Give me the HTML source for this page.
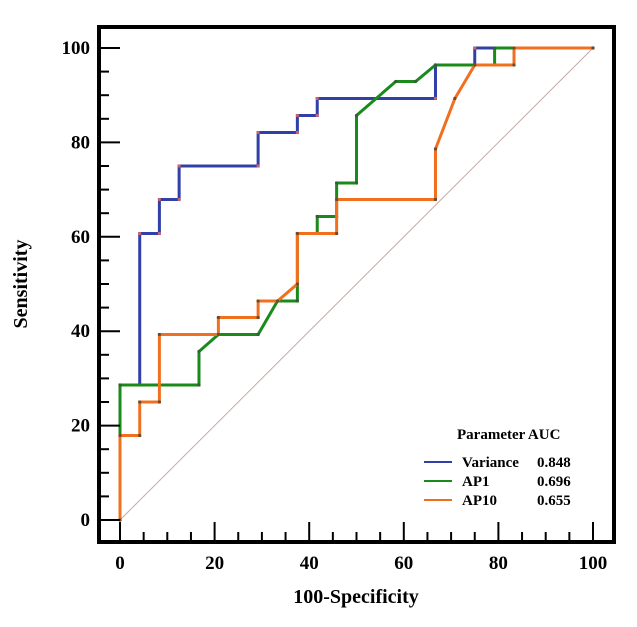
<!DOCTYPE html>
<html><head><meta charset="utf-8">
<style>
html,body{margin:0;padding:0;background:#fff;}
svg{display:block;font-family:"Liberation Serif",serif;font-weight:bold;}
</style></head>
<body>
<svg id="chart" width="637" height="627" viewBox="0 0 637 627">
<g id="plot"></g>
</svg>
<script>
const xTicks = [0,20,40,60,80,100];
const yTicks = [0,20,40,60,80,100];
const seriesNames = ["Variance","AP1","AP10"];
const aucValues = ["0.848","0.696","0.655"];
const varianceX = [0,0,4.17,4.17,8.33,8.33,12.5,12.5,29.2,29.2,37.5,37.5,41.7,41.7,66.7,66.7,75,75,100];
const varianceY = [0,28.6,28.6,60.7,60.7,67.9,67.9,75,75,82.1,82.1,85.7,85.7,89.3,89.3,96.4,96.4,100,100];
const ap1X = [0,0,16.7,16.7,20.8,29.2,33.3,37.5,37.5,41.7,41.7,45.8,45.8,50,50,58.3,62.5,66.7,79.2,79.2,100];
const ap1Y = [0,28.6,28.6,35.7,39.3,39.3,46.4,46.4,60.7,60.7,64.3,64.3,71.4,71.4,85.7,92.9,92.9,96.4,96.4,100,100];
const ap10X = [0,0,4.17,4.17,8.33,8.33,20.8,20.8,29.2,29.2,33.3,37.5,37.5,45.8,45.8,66.7,66.7,70.8,75,83.3,83.3,100];
const ap10Y = [0,17.9,17.9,25,25,39.3,39.3,42.9,42.9,46.4,46.4,50,60.7,60.7,67.9,67.9,78.6,89.3,96.4,96.4,100,100];

const NS="http://www.w3.org/2000/svg";
const g=document.getElementById('plot');
const X0=120,X1=593,Y0=520,Y1=48;
const sx=v=>X0+(X1-X0)*v/100;
const sy=v=>Y0-(Y0-Y1)*v/100;
function el(t,a,p){const e=document.createElementNS(NS,t);for(const k in a)e.setAttribute(k,a[k]);(p||g).appendChild(e);return e;}

const diag=el('line',{x1:sx(0),y1:sy(0),x2:sx(100),y2:sy(100),stroke:'#c8a8a8','stroke-width':1});



const series=[[varianceX,varianceY,'#3040a8','variance-curve','#d06070'],[ap1X,ap1Y,'#1a8a1a','ap1-curve','#3a5a3a'],[ap10X,ap10Y,'#f07020','ap10-curve','#6b4a30']];
series.forEach(s=>{
  const pts=s[0].map((x,i)=>sx(x)+','+sy(s[1][i])).join(' ');
  const pl=el('polyline',{points:pts,fill:'none',stroke:s[2],'stroke-width':3});
  
  
  s[0].forEach((x,i)=>{
    const c=el('circle',{cx:sx(x),cy:sy(s[1][i]),r:1.6,fill:s[4]});
    
    
  });
});

const fr=el('rect',{x:99,y:27,width:515,height:515,fill:'none',stroke:'#000','stroke-width':4});



for(let v=0;v<=100;v+=5){
  const major=v%20===0;
  const ty=el('line',{x1:99,y1:sy(v),x2:major?120:109,y2:sy(v),stroke:'#000','stroke-width':2});
  
  
  const tx=el('line',{x1:sx(v),y1:542,x2:sx(v),y2:major?522:532,stroke:'#000','stroke-width':2});
  
  
}
xTicks.forEach(v=>{
  const t=el('text',{x:sx(v),y:569,'text-anchor':'middle','font-size':19});
  t.textContent=v;
  
  
});
yTicks.forEach(v=>{
  const t=el('text',{x:90,y:sy(v)+6,'text-anchor':'end','font-size':19});
  t.textContent=v;
  
  
});
const xt=el('text',{x:356,y:603,'text-anchor':'middle','font-size':20});
xt.textContent='100-Specificity';


const yt=el('text',{x:0,y:0,'text-anchor':'middle','font-size':20,transform:'translate(27,284) rotate(-90)'});
yt.textContent='Sensitivity';



const lh=el('text',{x:457,y:439,'font-size':15});
lh.textContent='Parameter AUC';


const cols=['#3040a8','#1a8a1a','#f07020'];
seriesNames.forEach((n,i)=>{
  const y=462+i*19;
  const ln=el('line',{x1:424,y1:y,x2:452,y2:y,stroke:cols[i],'stroke-width':2});
  
  
  const t=el('text',{x:462,y:y+5,'font-size':15});
  t.textContent=n;
  
  
  const a=el('text',{x:537,y:y+5,'font-size':15});
  a.textContent=aucValues[i];
  
  
});
</script>
</body></html>
